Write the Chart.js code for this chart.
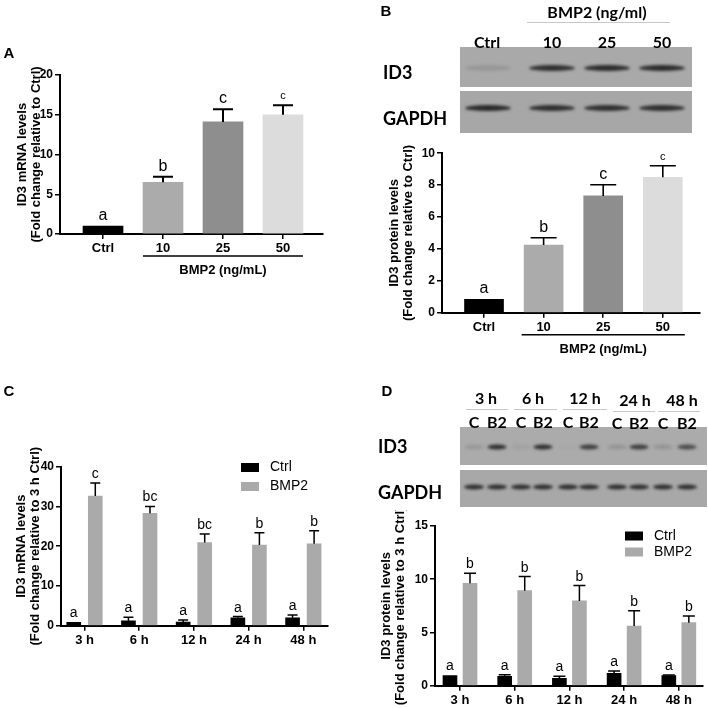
<!DOCTYPE html>
<html>
<head>
<meta charset="utf-8">
<script src="https://cdn.jsdelivr.net/npm/chart.js@4.4.0/dist/chart.umd.min.js"></script>
<style>
  body { margin: 0; background: #fff; }
  #page { position: relative; width: 708px; height: 708px; overflow: hidden; background: #fff; }
  canvas { position: absolute; }
  .t { position: absolute; transform: translate(-50%, -50%); white-space: nowrap; color: #000; }
  .pl { font: bold 15px "Liberation Sans", Arial, sans-serif; }
  .bl { font: bold 16px Lato, "Open Sans", sans-serif; }
  .bn { font: bold 18px Lato, "Open Sans", sans-serif; transform: translate(0, -50%); }
  .ul { position: absolute; height: 1px; background: #c8c8c8; }
</style>
</head>
<body>
<div id="page">
  <canvas id="blots" width="708" height="708" style="left:0;top:0"></canvas>
  <canvas id="grafA" width="340" height="250" style="left:0;top:40px"></canvas>
  <canvas id="grafB" width="338" height="240" style="left:370px;top:135px"></canvas>
  <canvas id="grafC" width="345" height="220" style="left:0;top:440px"></canvas>
  <canvas id="grafD" width="338" height="198" style="left:370px;top:510px"></canvas>

  <div class="t pl" style="left:9px;top:52px">A</div>
  <div class="t pl" style="left:386px;top:10px">B</div>
  <div class="t pl" style="left:9px;top:390px">C</div>
  <div class="t pl" style="left:387px;top:390px">D</div>

  <!-- blot B labels -->
  <div class="t bl" style="left:597px;top:11px">BMP2 (ng/ml)</div>
  <div class="ul" style="left:527px;top:22px;width:143px"></div>
  <div class="t bl" style="left:487px;top:41px">Ctrl</div>
  <div class="t bl" style="left:552px;top:41px">10</div>
  <div class="t bl" style="left:607px;top:41px">25</div>
  <div class="t bl" style="left:662px;top:41px">50</div>
  <div class="t bn" style="left:383px;top:72px">ID3</div>
  <div class="t bn" style="left:383px;top:118px">GAPDH</div>

  <!-- blot D labels -->
  <div class="t bl" style="left:486px;top:397px">3 h</div>
  <div class="t bl" style="left:533px;top:397px">6 h</div>
  <div class="t bl" style="left:585px;top:397px">12 h</div>
  <div class="t bl" style="left:635px;top:399px">24 h</div>
  <div class="t bl" style="left:682px;top:399px">48 h</div>
  <div class="ul" style="left:466px;top:409px;width:42px"></div>
  <div class="ul" style="left:514px;top:409px;width:43px"></div>
  <div class="ul" style="left:563px;top:409px;width:44px"></div>
  <div class="ul" style="left:613px;top:411px;width:42px"></div>
  <div class="ul" style="left:658px;top:411px;width:42px"></div>
  <div class="t bl" style="left:474px;top:421px">C</div>
  <div class="t bl" style="left:497px;top:421px">B2</div>
  <div class="t bl" style="left:521px;top:421px">C</div>
  <div class="t bl" style="left:543px;top:421px">B2</div>
  <div class="t bl" style="left:568px;top:421px">C</div>
  <div class="t bl" style="left:589px;top:421px">B2</div>
  <div class="t bl" style="left:617px;top:422px">C</div>
  <div class="t bl" style="left:639px;top:422px">B2</div>
  <div class="t bl" style="left:663px;top:422px">C</div>
  <div class="t bl" style="left:687px;top:422px">B2</div>
  <div class="t bn" style="left:378px;top:446px">ID3</div>
  <div class="t bn" style="left:378px;top:492px">GAPDH</div>
</div>

<script>
// ------- A: ID3 mRNA x dose -------
const dosesA = ['Ctrl', '10', '25', '50'];
const mrnaA = [1.0, 6.5, 14.1, 15.0];
const mrnaErrA = [0, 0.7, 1.6, 1.2];
const letrasA = ['a', 'b', 'c', 'c'];

// ------- B: ID3 protein x dose -------
const dosesB = ['Ctrl', '10', '25', '50'];
const proteinaB = [0.84, 4.24, 7.32, 8.49];
const proteinaErrB = [0, 0.46, 0.7, 0.72];
const letrasB = ['a', 'b', 'c', 'c'];

// ------- C: ID3 mRNA x time -------
const tempos = ['3 h', '6 h', '12 h', '24 h', '48 h'];
const mrnaCtrlC = [0.86, 1.2, 0.93, 2.0, 2.0];
const mrnaCtrlErrC = [0, 0.9, 0.5, 0.3, 0.7];
const mrnaBmpC = [32.6, 28.3, 20.9, 20.3, 20.6];
const mrnaBmpErrC = [3.3, 1.7, 2.2, 3.1, 3.3];
const letrasCtrlC = ['a', 'a', 'a', 'a', 'a'];
const letrasBmpC = ['c', 'bc', 'bc', 'b', 'b'];

// ------- D: ID3 protein x time -------
const protCtrlD = [0.96, 0.88, 0.69, 1.16, 0.94];
const protCtrlErrD = [0, 0.15, 0.19, 0.22, 0.06];
const protBmpD = [9.62, 8.93, 7.96, 5.61, 5.92];
const protBmpErrD = [0.94, 1.32, 1.44, 1.44, 0.63];
const letrasCtrlD = ['a', 'a', 'a', 'a', 'a'];
const letrasBmpD = ['b', 'b', 'b', 'b', 'b'];

// blot band strengths (0..1), per lane
const bandasB_ID3 = [0.12, 0.85, 0.88, 0.88];
const bandasB_GAPDH = [0.9, 0.85, 0.85, 0.85];
const bandasD_ID3 = [0.12, 0.85, 0.06, 0.85, 0.02, 0.75, 0.15, 0.75, 0.15, 0.65];
const bandasD_GAPDH = [0.85, 0.85, 0.85, 0.85, 0.85, 0.85, 0.85, 0.85, 0.85, 0.85];

const ARIAL = '"Liberation Sans", Arial, sans-serif';

//------- blots -------
function desenhaBlot(ctx, x, y, w, h, fundo, lanes, bandas, bw, bh, by) {
    ctx.save();
    ctx.fillStyle = fundo;
    ctx.fillRect(x, y, w, h);
    ctx.filter = 'blur(1.6px)';
    lanes.forEach((cx, i) => {
        ctx.fillStyle = 'rgba(25,25,25,' + bandas[i] + ')';
        ctx.beginPath();
        ctx.ellipse(cx, by, bw / 2, bh / 2, 0, 0, Math.PI * 2);
        ctx.fill();
    });
    ctx.restore();
}
const ctxBlot = document.getElementById('blots').getContext('2d');
desenhaBlot(ctxBlot, 460, 47, 232, 40, '#a9a9a9', [488, 552, 607, 662], bandasB_ID3, 46, 6, 68);
desenhaBlot(ctxBlot, 460, 91, 232, 42, '#a7a7a7', [488, 552, 607, 662], bandasB_GAPDH, 46, 6, 108);
const lanesD = [474, 497, 521, 543, 568, 589, 617, 639, 663, 687];
desenhaBlot(ctxBlot, 460, 427, 247, 38, '#ababab', lanesD, bandasD_ID3, 19, 5, 447);
desenhaBlot(ctxBlot, 460, 470, 247, 37, '#a8a8a8', lanesD, bandasD_GAPDH, 20, 5, 487);

//------- extras: error bars, letters, y titles, bracket, legend -------
const extras = {
    id: 'extras',
    afterDatasetsDraw(chart, args, o) {
        const ctx = chart.ctx;
        const ys = chart.scales.y, xs = chart.scales.x, area = chart.chartArea;
        ctx.save();
        chart.data.datasets.forEach((ds, di) => {
            const meta = chart.getDatasetMeta(di);
            meta.data.forEach((bar, i) => {
                const v = ds.data[i].y, e = ds.erros[i];
                const topo = ys.getPixelForValue(v + e);
                if (e > 0) {
                    ctx.strokeStyle = '#000';
                    ctx.lineWidth = o.errW;
                    ctx.beginPath();
                    ctx.moveTo(bar.x, bar.y);
                    ctx.lineTo(bar.x, topo);
                    ctx.moveTo(bar.x - o.cap, topo);
                    ctx.lineTo(bar.x + o.cap, topo);
                    ctx.stroke();
                }
                const tam = o.letraTam[di][i];
                ctx.fillStyle = '#000';
                ctx.font = tam + 'px ' + ARIAL;
                ctx.textAlign = 'center';
                ctx.textBaseline = 'alphabetic';
                ctx.fillText(ds.letras[i], bar.x, topo - o.gap);
            });
        });
        // y title
        const cy = (area.top + area.bottom) / 2;
        ctx.font = 'bold ' + o.tituloTam + 'px ' + ARIAL;
        ctx.textAlign = 'center';
        ctx.textBaseline = 'middle';
        o.titulo.forEach((linha, k) => {
            ctx.save();
            ctx.translate(o.tituloX[k], cy);
            ctx.rotate(-Math.PI / 2);
            ctx.fillText(linha, 0, 0);
            ctx.restore();
        });
        // bracket under the doses
        if (o.chave) {
            const x1 = xs.getPixelForValue(o.chave.de) - o.chave.folga;
            const x2 = xs.getPixelForValue(o.chave.ate) + o.chave.folga;
            const yl = area.bottom + o.chave.dy;
            ctx.strokeStyle = '#000';
            ctx.lineWidth = 1.5;
            ctx.beginPath();
            ctx.moveTo(x1, yl);
            ctx.lineTo(x2, yl);
            ctx.stroke();
            ctx.font = 'bold 13px ' + ARIAL;
            ctx.fillText(o.chave.texto, (x1 + x2) / 2, area.bottom + o.chave.ty);
        }
        // legend
        if (o.legenda) {
            ctx.font = '14px ' + ARIAL;
            ctx.textAlign = 'left';
            ctx.textBaseline = 'middle';
            chart.data.datasets.forEach((ds, di) => {
                const yy = o.legenda.y + di * o.legenda.passo;
                ctx.fillStyle = ds.backgroundColor;
                ctx.fillRect(o.legenda.x, yy - 4.5, 18, 9);
                ctx.fillStyle = '#000';
                ctx.fillText(ds.label, o.legenda.x + 29, yy);
            });
        }
        ctx.restore();
    }
};

function graficoBarras(id, cfg) {
    const fonteY = { family: ARIAL, size: 12, weight: 'bold' };
    const fonteX = { family: ARIAL, size: 13, weight: 'bold' };
    return new Chart(document.getElementById(id), {
        type: 'bar',
        data: {
            datasets: cfg.series.map(s => ({
                label: s.nome,
                data: s.valores.map((v, i) => ({ x: i + s.desloc, y: v })),
                erros: s.erros,
                letras: s.letras,
                backgroundColor: s.cor,
                barThickness: cfg.barW,
                grouped: false,
                borderWidth: 0
            }))
        },
        options: {
            responsive: false,
            animation: false,
            events: [],
            layout: { padding: cfg.pad },
            plugins: {
                legend: { display: false },
                tooltip: { enabled: false },
                extras: cfg.extras
            },
            scales: {
                x: {
                    type: 'linear',
                    offset: false,
                    min: cfg.xMin,
                    max: cfg.xMax,
                    afterBuildTicks: s => { s.ticks = cfg.rotulos.map((r, i) => ({ value: i })); },
                    afterFit: s => { s.height = cfg.xAltura; },
                    ticks: { callback: v => cfg.rotulos[v], color: '#000', font: fonteX, padding: 2, maxRotation: 0, autoSkip: false },
                    grid: { offset: false, drawOnChartArea: false, tickLength: 5, color: '#000', lineWidth: 1.5 },
                    border: { display: true, color: '#000', width: 2 }
                },
                y: {
                    min: 0,
                    max: cfg.yMax,
                    afterFit: s => { s.width = cfg.yLargura; },
                    ticks: { stepSize: cfg.yPasso, color: '#000', font: fonteY, padding: 2 },
                    grid: { drawOnChartArea: false, tickLength: 5, color: '#000', lineWidth: 1.5 },
                    border: { display: true, color: '#000', width: 2 }
                }
            }
        },
        plugins: [extras]
    });
}

//------- GRAPH A -------
graficoBarras('grafA', {
    rotulos: dosesA,
    series: [{ nome: 'ID3', valores: mrnaA, erros: mrnaErrA, letras: letrasA, desloc: 0,
               cor: ['#000000', '#ababab', '#8e8e8e', '#dcdcdc'] }],
    barW: 40, xMin: -0.717, xMax: 3.667, yMax: 20, yPasso: 5,
    pad: { top: 35, right: 17, left: 0, bottom: 0 }, xAltura: 56, yLargura: 60,
    extras: {
        errW: 2, cap: 10, gap: 6, letraTam: [[16, 16, 16, 11]],
        titulo: ['ID3 mRNA levels', '(Fold change relative to Ctrl)'], tituloX: [22, 36], tituloTam: 13,
        chave: { de: 1, ate: 3, folga: 20, dy: 22, ty: 36, texto: 'BMP2 (ng/mL)' }
    }
});

//------- GRAPH B -------
graficoBarras('grafB', {
    rotulos: dosesB,
    series: [{ nome: 'ID3', valores: proteinaB, erros: proteinaErrB, letras: letrasB, desloc: 0,
               cor: ['#000000', '#ababab', '#8e8e8e', '#dcdcdc'] }],
    barW: 39, xMin: -0.705, xMax: 3.624, yMax: 10, yPasso: 2,
    pad: { top: 18.2, right: 8, left: 0, bottom: 0 }, xAltura: 62.3, yLargura: 72,
    extras: {
        errW: 1.6, cap: 13, gap: 6, letraTam: [[16, 16, 16, 11]],
        titulo: ['ID3 protein levels', '(Fold change relative to Ctrl)'], tituloX: [24, 38], tituloTam: 13,
        chave: { de: 1, ate: 3, folga: 22, dy: 22, ty: 37, texto: 'BMP2 (ng/mL)' }
    }
});

//------- GRAPH C -------
graficoBarras('grafC', {
    rotulos: tempos,
    series: [
        { nome: 'Ctrl', valores: mrnaCtrlC, erros: mrnaCtrlErrC, letras: letrasCtrlC, desloc: -0.197, cor: '#000000' },
        { nome: 'BMP2', valores: mrnaBmpC, erros: mrnaBmpErrC, letras: letrasBmpC, desloc: 0.197, cor: '#aaaaaa' }
    ],
    barW: 14, xMin: -0.43, xMax: 4.451, yMax: 40, yPasso: 10,
    pad: { top: 26.7, right: 17, left: 0, bottom: 0 }, xAltura: 34.3, yLargura: 61,
    extras: {
        errW: 1.5, cap: 5, gap: 5, letraTam: [[14, 14, 14, 14, 14], [14, 14, 14, 14, 14]],
        titulo: ['ID3 mRNA levels', '(Fold change relative to 3 h Ctrl)'], tituloX: [21, 35], tituloTam: 13,
        legenda: { x: 241, y: 27.5, passo: 19 }
    }
});

//------- GRAPH D -------
graficoBarras('grafD', {
    rotulos: tempos,
    series: [
        { nome: 'Ctrl', valores: protCtrlD, erros: protCtrlErrD, letras: letrasCtrlD, desloc: -0.183, cor: '#000000' },
        { nome: 'BMP2', valores: protBmpD, erros: protBmpErrD, letras: letrasBmpD, desloc: 0.183, cor: '#aaaaaa' }
    ],
    barW: 14, xMin: -0.457, xMax: 4.442, yMax: 15, yPasso: 5,
    pad: { top: 16, right: 5, left: 0, bottom: 0 }, xAltura: 22.3, yLargura: 65,
    extras: {
        errW: 1.5, cap: 6, gap: 5, letraTam: [[14, 14, 14, 14, 14], [14, 14, 14, 14, 14]],
        titulo: ['ID3 protein levels', '(Fold change relative to 3 h Ctrl)'], tituloX: [16, 30], tituloTam: 13,
        legenda: { x: 255, y: 26, passo: 16 }
    }
});
</script>
</body>
</html>
